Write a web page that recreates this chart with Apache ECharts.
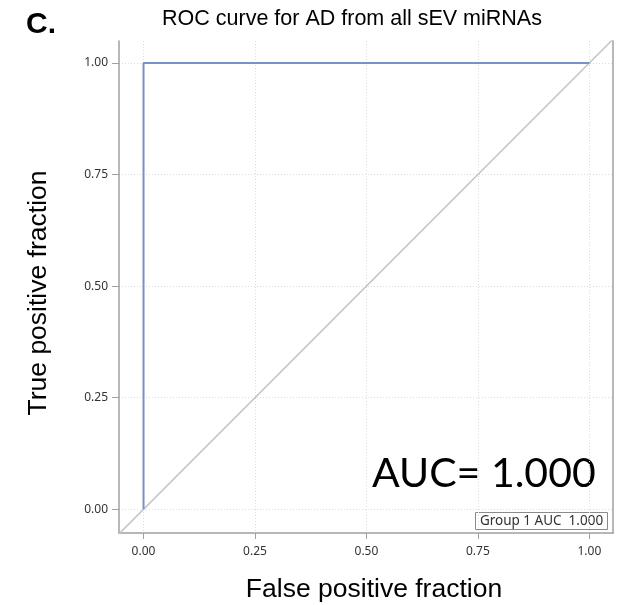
<!DOCTYPE html>
<html>
<head>
<meta charset="utf-8">
<script src="https://cdn.jsdelivr.net/npm/echarts@6/dist/echarts.min.js"></script>
<style>
  html, body { margin: 0; padding: 0; background: #fff; }
  #roc { width: 621px; height: 605px; }
</style>
</head>
<body>
<div id="roc"></div>
<script>
// ROC points
var fpr = [0, 0, 1];
var tpr = [0, 1, 1];
// reference diagonal, corner to corner
var diagX = [-0.055, 1.053];
var diagY = [-0.055, 1.053];
// axes
var xRange = [-0.055, 1.053];
var yRange = [-0.053, 1.049];
var tickVals = [0, 0.25, 0.5, 0.75, 1];
var aucText = 'AUC= 1.000';
var legendText = 'Group 1 AUC  1.000';

var myChart = echarts.init(document.getElementById('roc'));

var axisFont = 'Noto Sans';
var labelFmt = function (v) { return v.toFixed(2); };

var option = {
  backgroundColor: '#fff',
  animation: false,
  grid: { left: 119, right: 8, top: 41, bottom: 72, outerBoundsMode: 'none' },
  xAxis: {
    type: 'value',
    min: xRange[0],
    max: xRange[1],
    name: 'False positive fraction',
    nameLocation: 'middle',
    nameGap: 43,
    nameMoveOverlap: false,
    nameTextStyle: { fontFamily: 'Liberation Sans', fontSize: 26.5, color: '#000', padding: [0, 0, 0, 16] },
    axisLine: { show: true, onZero: false, lineStyle: { color: '#a0a0a0', width: 1.5 } },
    axisTick: { show: true, length: 6, customValues: tickVals, lineStyle: { color: '#a0a0a0' } },
    axisLabel: { customValues: tickVals, formatter: labelFmt, margin: 13, fontFamily: axisFont, fontSize: 12, color: '#333' },
    splitLine: { show: true, lineStyle: { color: '#dcdcdc', type: [1, 2], width: 1 } }
  },
  yAxis: [{
    type: 'value',
    min: yRange[0],
    max: yRange[1],
    name: 'True positive fraction',
    nameLocation: 'middle',
    nameGap: 67,
    nameMoveOverlap: false,
    nameTextStyle: { fontFamily: 'Liberation Sans', fontSize: 26.5, color: '#000', padding: [0, 12, 0, 0] },
    axisLine: { show: true, onZero: false, lineStyle: { color: '#a0a0a0', width: 1.5 } },
    axisTick: { show: true, length: 7, customValues: tickVals, lineStyle: { color: '#a0a0a0' } },
    axisLabel: { customValues: tickVals, formatter: labelFmt, margin: 11, fontFamily: axisFont, fontSize: 12, color: '#333' },
    splitLine: { show: true, lineStyle: { color: '#dcdcdc', type: [1, 2], width: 1 } }
  }, {
    // right frame line only
    type: 'value',
    position: 'right',
    min: yRange[0],
    max: yRange[1],
    axisLine: { show: true, onZero: false, lineStyle: { color: '#a0a0a0', width: 1.5 } },
    axisTick: { show: false },
    axisLabel: { show: false },
    splitLine: { show: false }
  }],
  series: [
    {
      name: 'diagonal',
      type: 'line',
      data: diagX.map(function (x, i) { return [x, diagY[i]]; }),
      symbol: 'none',
      lineStyle: { color: '#c4c4c4', width: 1.5 },
      clip: true,
      silent: true
    },
    {
      name: 'Group 1',
      type: 'line',
      data: fpr.map(function (x, i) { return [x, tpr[i]]; }),
      symbol: 'none',
      lineStyle: { color: '#7891c6', width: 2 }
    }
  ],
  graphic: [
    { type: 'text', left: 26, top: 10, style: { text: 'C.', font: 'bold 30px "Liberation Sans"', fill: '#000' } },
    { type: 'text', x: 352, y: 19, style: { text: 'ROC curve for AD from all sEV miRNAs', font: '21.5px "Liberation Sans"', fill: '#000', align: 'center', verticalAlign: 'middle' } },
    { type: 'text', x: 372, y: 474, style: { text: aucText, font: '41px Lato', fill: '#000', align: 'left', verticalAlign: 'middle' } },
    { type: 'rect', shape: { x: 475.5, y: 512.5, width: 132, height: 17 }, style: { fill: '#fff', stroke: '#8a8a8a', lineWidth: 1 } },
    { type: 'text', x: 541.5, y: 521, style: { text: legendText, font: '13.5px "Noto Sans"', fill: '#333', align: 'center', verticalAlign: 'middle' } }
  ]
};

myChart.setOption(option, true);
</script>
</body>
</html>
